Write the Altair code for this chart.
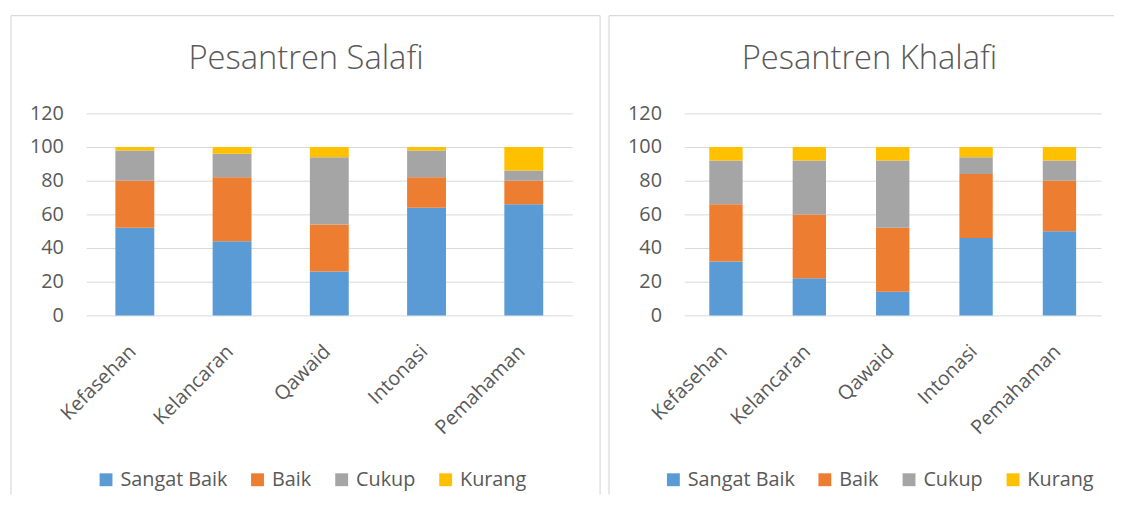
import altair as alt
import pandas as pd

categories = ["Kefasehan", "Kelancaran", "Qawaid", "Intonasi", "Pemahaman"]
series = ["Sangat Baik", "Baik", "Cukup", "Kurang"]
colors = ["#5B9BD5", "#ED7D31", "#A5A5A5", "#FFC000"]

salafi_sangat_baik = [52, 44, 26, 64, 66]
salafi_baik = [28, 38, 28, 18, 14]
salafi_cukup = [18, 14, 40, 16, 6]
salafi_kurang = [2, 4, 6, 2, 14]

khalafi_sangat_baik = [32, 22, 14, 46, 50]
khalafi_baik = [34, 38, 38, 38, 30]
khalafi_cukup = [26, 32, 40, 10, 12]
khalafi_kurang = [8, 8, 8, 6, 8]

y_ticks = [0, 20, 40, 60, 80, 100, 120]

FONT = "Open Sans"
TEXT = "#595959"
GRID = "#D9D9D9"


def long_table(values_by_series):
    rows = []
    for si, (name, vals) in enumerate(zip(series, values_by_series)):
        for cat, v in zip(categories, vals):
            rows.append({"kategori": cat, "nilai": v, "seri": name, "urut": si})
    return pd.DataFrame(rows)


def panel(title, values_by_series, plot_w, legend_x, border_right, right_edge):
    df = long_table(values_by_series)
    bars = alt.Chart(df).mark_bar().encode(
        x=alt.X("kategori:N", sort=categories,
                scale=alt.Scale(paddingInner=0.6, paddingOuter=0.3),
                axis=alt.Axis(title=None, labelAngle=-45, labelFontSize=20,
                              labelFont=FONT, labelColor=TEXT, ticks=False,
                              labelAlign="right", labelBaseline="top",
                              labelOffset=-9,
                              domain=False, grid=False, labelPadding=26)),
        y=alt.Y("nilai:Q", stack="zero",
                scale=alt.Scale(domain=[0, 120], nice=False),
                axis=alt.Axis(title=None, values=y_ticks, labelFontSize=20,
                              labelFont=FONT, labelColor=TEXT, ticks=False,
                              domain=False, grid=True, gridColor=GRID,
                              gridWidth=1, labelPadding=23)),
        color=alt.Color("seri:N", sort=series,
                        scale=alt.Scale(domain=series, range=colors),
                        legend=alt.Legend(orient="none", legendX=legend_x,
                                          legendY=360, direction="horizontal",
                                          columns=4, title=None, padding=0,
                                          symbolType="square", symbolSize=169,
                                          symbolStrokeWidth=0,
                                          labelFontSize=20, labelFont=FONT,
                                          labelColor=TEXT, labelOffset=4.5,
                                          columnPadding=20)),
        order=alt.Order("urut:Q", sort="ascending"),
    )
    one = pd.DataFrame({"t": [title]})
    title_mark = alt.Chart(one).mark_text(
        font=FONT, fontSize=33, fontWeight=300, color=TEXT,
        align="center", baseline="alphabetic"
    ).encode(x=alt.value(plot_w / 2 - 23.5), y=alt.value(-44.7), text="t:N")
    left_rule = alt.Chart(one).mark_rule(color=GRID, strokeWidth=1.2).encode(
        x=alt.value(-76), y=alt.value(-98.7), y2=alt.value(385))
    top_rule = alt.Chart(one).mark_rule(color=GRID, strokeWidth=1.2).encode(
        x=alt.value(-76), x2=alt.value(right_edge), y=alt.value(-98.7))
    layers = [left_rule, top_rule, title_mark, bars]
    if border_right:
        right_rule = alt.Chart(one).mark_rule(color=GRID, strokeWidth=1.2).encode(
            x=alt.value(right_edge), y=alt.value(-98.7), y2=alt.value(385))
        layers.insert(2, right_rule)
    return alt.layer(*layers).properties(width=plot_w, height=204)


left = panel("Pesantren Salafi",
             [salafi_sangat_baik, salafi_baik, salafi_cukup, salafi_kurang],
             491, 10, True, 519)

right = panel("Pesantren Khalafi",
              [khalafi_sangat_baik, khalafi_baik, khalafi_cukup, khalafi_kurang],
              421, -21, False, 434)

chart = alt.hconcat(left, right, spacing=7).resolve_scale(
    color="independent").resolve_legend(color="independent").properties(
    padding={"left": 2, "top": 4, "right": 0, "bottom": 0}
).configure_view(stroke=None)

chart.save("out.html", embed_options={"renderer": "svg", "actions": False})
